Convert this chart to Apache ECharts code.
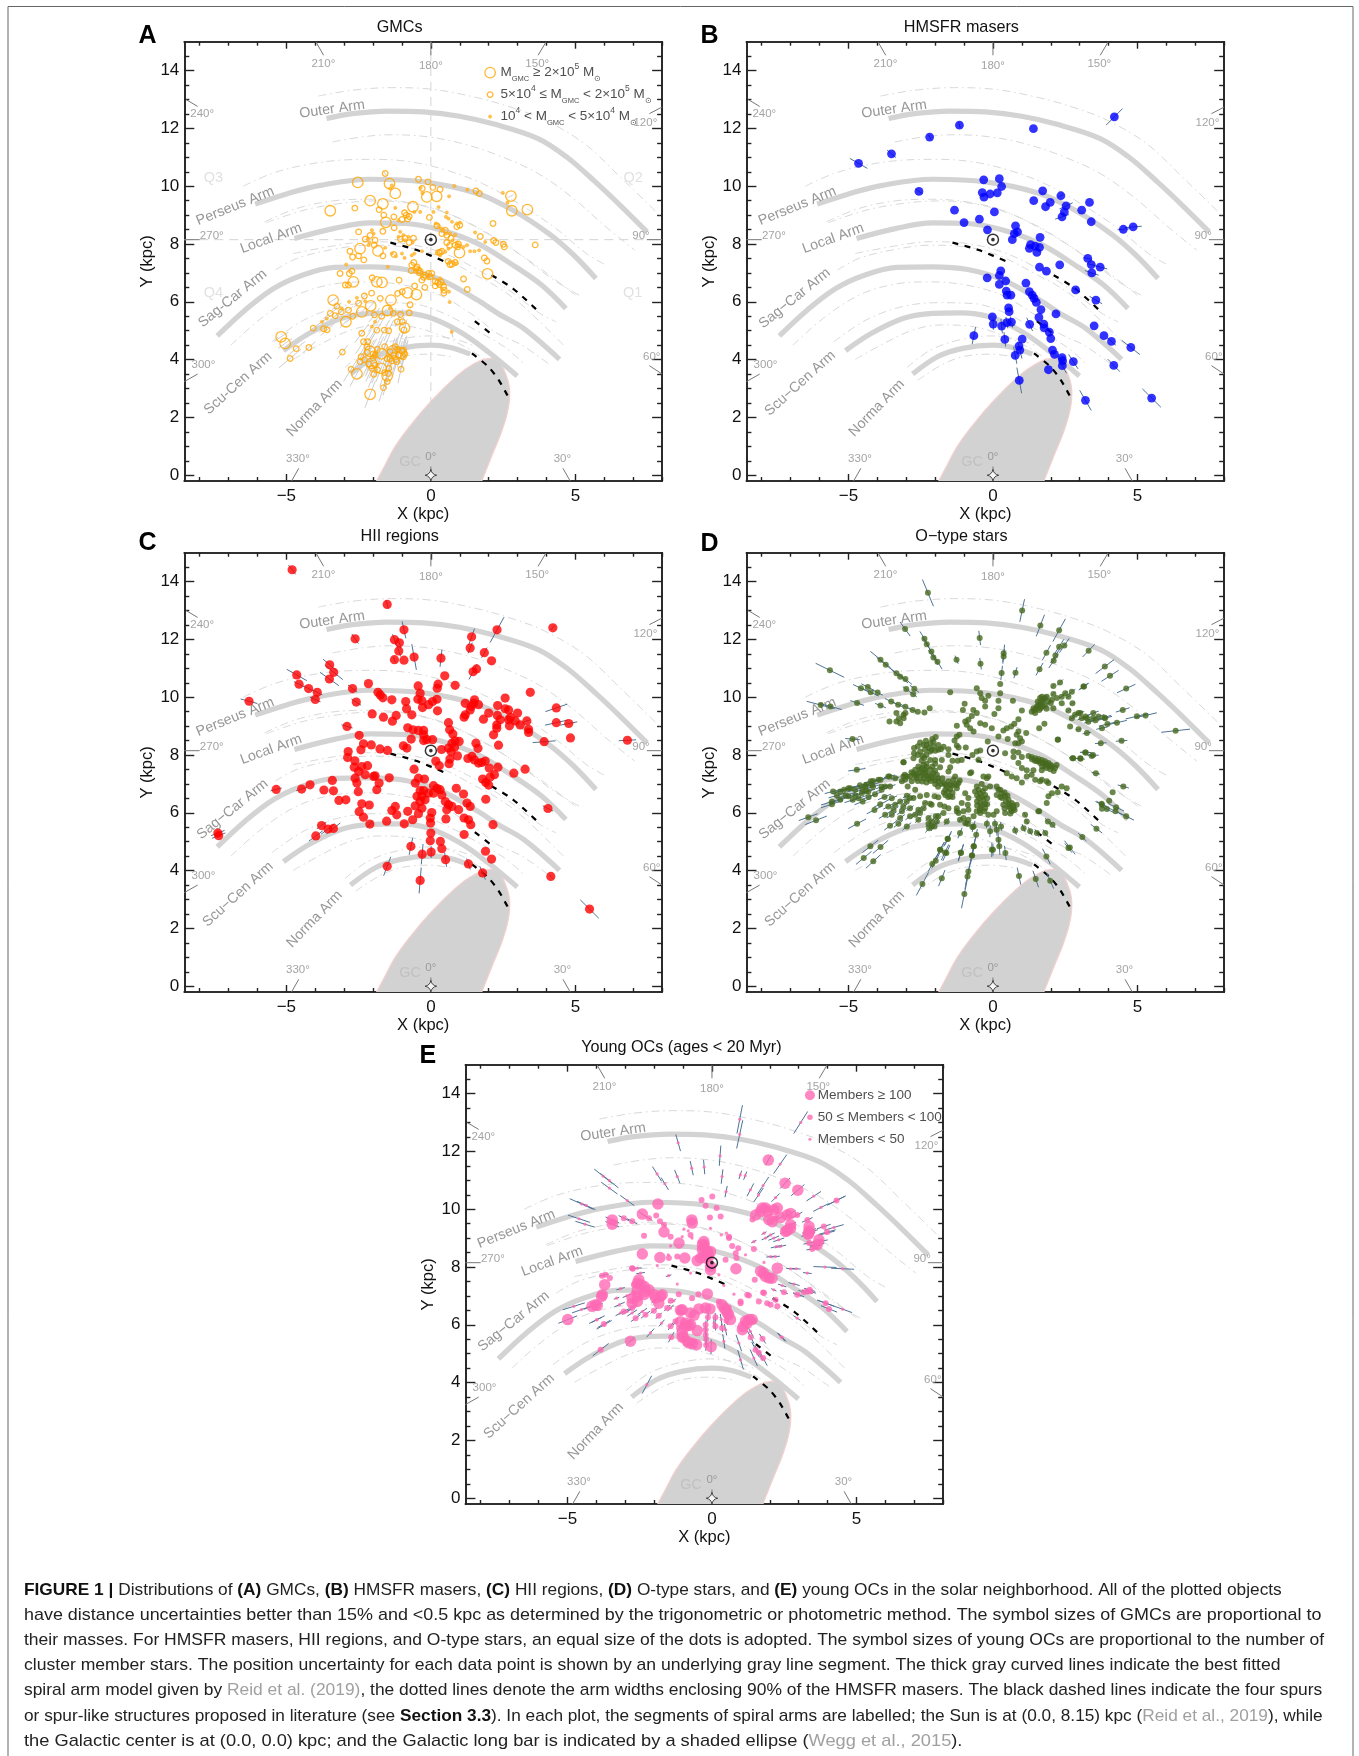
<!DOCTYPE html>
<html>
<head>
<meta charset="utf-8">
<style>html,body{margin:0;padding:0;background:#fff}#main{width:1359px;height:1756px}</style>
<script src="https://cdn.jsdelivr.net/npm/echarts@6/dist/echarts.min.js"></script>
</head>
<body>
<div id="main"></div>
<script>
// ---- tick values ----
const xMajor = [-5, 0, 5];
const xMinor = [-8, -7, -6, -4, -3, -2, -1, 1, 2, 3, 4, 6, 7, 8];
const yMajor = [0, 2, 4, 6, 8, 10, 12, 14];
const yMinor = [0.5, 1, 1.5, 2.5, 3, 3.5, 4.5, 5, 5.5, 6.5, 7, 7.5, 8.5, 9, 9.5, 10.5, 11, 11.5, 12.5, 13, 13.5, 14.5];

// ---- spiral arm centre lines (kpc) ----
const armOuter = [[-3.61,12.34],[-2.72,12.51],[-1.48,12.60],[-0.25,12.57],[0.99,12.42],[2.22,12.14],[3.71,11.65],[4.70,11.01],[5.69,10.15],[6.55,9.34],[7.48,8.42]];
const armPerseus = [[-6.08,9.38],[-4.94,9.75],[-3.83,10.03],[-2.10,10.24],[-0.25,10.15],[1.61,9.75],[2.84,9.17],[4.08,8.36],[4.94,7.62],[5.71,6.81]];
const armLocal = [[-4.72,8.19],[-3.34,8.54],[-2.10,8.73],[-0.87,8.71],[0.37,8.48],[1.61,8.02],[2.84,7.27],[3.83,6.58],[4.67,5.77]];
const armSagCar = [[-7.39,4.82],[-6.43,5.71],[-5.44,6.46],[-4.45,6.92],[-3.34,7.19],[-2.10,7.21],[-0.87,7.12],[0.37,6.75],[1.61,6.06],[2.35,5.58],[3.21,5.08],[4.45,4.01]];
const armScuCen = [[-5.1,4.31],[-4.2,4.91],[-3.09,5.43],[-2.1,5.6],[-1.11,5.62],[-0.12,5.48],[0.99,4.97],[1.98,4.27],[2.99,3.43]];
const armNorma = [[-2.78,3.5],[-1.92,4.1],[-1.05,4.39],[0,4.5],[0.68,4.42],[1.36,4.19]];

// ---- arm width (90%) lines ----
const wOuterUp = [[-3.89,13.12],[-2.72,13.32],[-1.36,13.41],[0,13.36],[1.61,13.06],[2.84,12.71],[3.96,12.28],[5.32,11.47],[6.55,10.32],[7.91,9.0]];
const wOuterLo = [[-3.40,11.53],[-2.35,11.71],[-1.36,11.78],[-0.12,11.71],[1.11,11.47],[2.35,11.06],[3.71,10.44],[4.94,9.57],[6.06,8.59],[7.05,7.79]];
const wPerseusUp = [[-6.49,10.0],[-5.5,10.44],[-4.39,10.73],[-3.15,10.9],[-1.92,10.93],[-0.68,10.84],[0.56,10.55],[1.79,10.09],[3.03,9.4],[4.26,8.59],[5.38,7.67],[6.06,7.27]];
const wPerseusLo = [[-5.75,8.77],[-4.64,9.23],[-3.4,9.49],[-2.16,9.55],[-0.93,9.46],[0.31,9.17],[1.55,8.59],[2.78,7.85],[4.02,6.98],[5.0,6.23]];
const wLocalUp = [[-5.69,8.74],[-4.39,9.17],[-3.15,9.4],[-1.92,9.49],[-0.68,9.4],[0.56,9.06],[1.79,8.48],[3.03,7.67],[4.26,6.75],[5.13,6.23]];
const wLocalLo = [[-4.76,7.67],[-3.4,7.93],[-2.16,8.08],[-0.93,8.02],[0.31,7.73],[1.55,7.15],[2.78,6.35],[3.77,5.6],[4.33,5.31]];
const wSagUp = [[-5.38,7.1],[-4.64,7.5],[-3.4,7.81],[-2.16,7.96],[-0.93,7.9],[0.31,7.56],[1.55,6.92],[2.29,6.52],[3.15,5.89],[4.64,4.45]];
const wSagLo = [[-6.92,4.5],[-5.87,5.43],[-4.64,6.23],[-3.4,6.61],[-2.16,6.69],[-0.93,6.58],[0.31,6.23],[1.55,5.48],[2.29,4.91],[3.15,4.5],[4.08,3.85]];
const wScuUp = [[-5.5,4.62],[-4.39,5.37],[-3.15,5.83],[-1.92,5.97],[-0.68,5.94],[0.31,5.66],[1.55,5.02],[2.53,4.45],[3.21,3.87]];
const wScuLo = [[-4.76,4.01],[-3.77,4.56],[-2.78,5.02],[-1.79,5.2],[-0.8,5.16],[0.31,4.85],[1.17,4.45],[1.98,3.93]];
const wNormaUp = [[-2.97,3.73],[-2.16,4.33],[-1.17,4.68],[-0.06,4.82],[0.93,4.68],[1.55,4.45]];
const wNormaLo = [[-2.6,3.29],[-1.79,3.81],[-1.05,4.1],[-0.06,4.19],[0.68,4.1]];

// ---- spurs ----
const spurA = [[-1.40,8.05],[-0.49,7.79],[0.62,7.33]];
const spurB = [[2.1,6.92],[2.84,6.46],[3.77,5.62]];
const spurC = [[1.52,5.33],[2.1,4.88]];
const spurD = [[1.42,4.22],[1.98,3.76],[2.35,3.29],[2.66,2.74]];

// ---- long bar outline ----
const barOutline = [[-2.42,-1.3],[-2.03,-0.5],[-1.61,0.30],[-1.24,0.99],[-0.74,1.68],[0,2.55],[0.87,3.41],[1.48,3.85],[2.04,4.04],[2.35,3.93],[2.60,3.47],[2.72,3.01],[2.69,2.37],[2.47,1.57],[2.10,0.65],[1.64,-0.5],[1.3,-1.3]];

// ---- longitude marks: [x1,y1,x2,y2] ----
const lonTicks = [[0,15,0,14.53],[-3.98,15,-3.71,14.53],[3.99,15,3.71,14.53],[-8.47,13.0,-8.07,12.76],[8,12.74,7.56,12.51],[-8.53,8.15,-8.0,8.15],[8,8.15,7.47,8.15],[-8.53,3.24,-8.07,3.5],[8,3.5,7.56,3.79],[-4.82,-0.2,-4.57,0.24],[4.82,-0.2,4.57,0.24],[0,0.13,0,0.3]];
const lonLabels = [[-3.72,14.24,'210°'],[0,14.18,'180°'],[3.68,14.24,'150°'],[-7.91,12.49,'240°'],[7.42,12.2,'120°'],[-7.58,8.27,'270°'],[7.27,8.27,'90°'],[-7.87,3.82,'300°'],[7.64,4.1,'60°'],[-4.6,0.56,'330°'],[4.55,0.56,'30°'],[0,0.64,'0°']];
const armLabels = [[-3.42,12.66,'Outer Arm',8],[-6.77,9.31,'Perseus Arm',22],[-5.53,8.19,'Local Arm',20],[-6.86,6.12,'Sag−Car Arm',39],[-6.67,3.18,'Scu−Cen Arm',42],[-4.02,2.32,'Norma Arm',46]];
const quadLabels = [[-7.52,10.3,'Q3'],[7.0,10.3,'Q2'],[-7.52,6.29,'Q4'],[6.98,6.29,'Q1']];
const sunPos = [[0,8.15]];
const gcPos = [[0,0]];

// ---- A: GMCs [x,y,positionError] ----
const gmcLarge = [[-2.53,10.13],[-1.43,10.09],[-1.23,9.75],[-3.48,9.15],[-2.10,9.50],[-1.66,9.39],[-0.62,9.29],[-0.14,9.63],[0.20,9.65],[2.77,9.66,.1],[2.80,9.15],[3.34,9.19],[-1.56,8.75],[-2.45,7.84],[-1.83,7.76],[0.99,7.70],[1.96,6.97],[-2.68,6.69],[-1.69,6.67],[-1.87,6.69],[-3.38,6.06,.2],[-1.38,6.06],[-0.81,6.31],[-0.50,6.25],[-2.39,5.65,.2],[-2.08,5.86,.2],[-1.50,5.70,.2],[-2.94,5.31,.3],[-0.91,5.10,.3],[-5.18,4.79,.3],[-5.04,4.56,.3],[-2.11,4.29,.5],[-1.70,4.20,.5],[-1.32,4.30,.5],[-1.03,4.22,.5],[-2.05,3.87,.5],[-1.72,3.70,.5],[-2.56,3.51,.5],[-1.51,3.44,.5],[-2.10,2.80,.5]];
const gmcMid = [[-1.58,10.44,.1],[-0.43,10.24],[-0.10,10.15],[-0.30,9.92],[0.07,9.96],[0.32,9.89],[1.56,9.84,.1],[1.68,9.75],[-2.63,9.24],[-1.79,9.19],[-1.63,9.0],[-1.28,8.94],[-0.91,9.08],[-0.80,8.87],[-0.05,8.92],[2.15,8.71],[-2.50,8.42],[-2.27,8.17],[-1.66,8.44],[-1.27,8.56],[-2.10,8.30],[-1.93,8.13],[-1.05,8.17],[-1.96,7.96],[-2.80,7.75],[-2.71,7.55],[-2.50,7.59],[-2.32,7.45],[-1.66,7.59],[-1.28,7.64],[1.71,8.26],[2.17,8.12],[2.25,8.05],[2.51,7.99],[2.54,7.90],[3.61,7.97],[1.85,7.52],[1.94,7.41],[0.66,7.29],[0.32,7.71],[-0.59,7.36],[-0.68,7.08],[-0.43,7.09],[-0.08,6.98],[-0.31,6.75],[0.15,6.71],[0.35,6.69],[0.46,6.40],[1.13,6.79],[1.26,6.43],[-0.21,6.50],[-0.56,6.55],[-1.10,6.75],[-2.03,6.83],[-2.82,6.98],[-2.73,7.06],[-3.14,6.98],[-2.96,6.58],[-2.85,6.58],[-1.75,6.12],[-1.15,6.29],[-0.99,6.35],[-0.72,5.90],[-0.75,5.62],[-1.05,5.56,.2],[-1.16,5.31,.2],[-0.99,5.31,.2],[-2.85,5.71,.2],[-3.48,5.60,.3],[-3.31,5.52,.3],[-4.07,5.09,.3],[-3.71,5.07,.2],[-3.59,5.03,.3],[-1.87,5.02,.4],[-1.61,5.02,.4],[-1.46,5.0,.4],[-0.93,5.03,.3],[-2.39,4.91,.4],[-2.33,4.62,.5],[-2.18,4.62,.5],[-4.66,4.38,.4],[-4.22,4.42,.3],[-4.87,4.04,.5],[-3.06,4.26,.3],[-2.41,4.10,.5],[-2.76,3.67,.5],[-1.97,3.49,.5],[-1.51,3.24,.5],[-1.64,3.03,.5],[-1.41,4.04,.5],[-1.18,3.93,.5],[-1.03,3.67,.5],[-0.95,4.10,.5],[0.21,8.63],[0.50,8.48],[0.38,8.36],[0.84,7.96],[0.93,7.90],[0.27,7.71],[0.38,7.75],[0.73,7.30],[0.84,7.36],[-0.48,7.21],[-0.37,7.06],[-0.20,6.92],[-0.02,6.87],[0.03,6.98],[-0.66,7.27],[0.24,6.67],[0.44,6.52],[-2.21,4.45,.5],[-1.93,4.16,.5],[-1.52,4.04,.5],[-1.41,4.27,.5],[-1.23,4.45,.5],[-1.12,4.16,.5],[-0.95,4.33,.5],[-2.04,3.70,.5],[-1.93,3.81,.5],[-2.45,3.93,.5],[-1.47,3.52,.5],
[-1.85,4.35,.5],[-2.0,4.2,.5],[-1.6,4.45,.5],[-1.3,4.15,.5],[-1.15,4.35,.5],[-1.0,4.3,.5],[-0.9,4.2,.5],[-1.2,4.0,.5],[-1.35,3.95,.5],[-2.2,4.25,.5],[-2.3,4.0,.5],[-2.0,4.05,.5],[-2.15,3.85,.5],[-1.85,3.65,.5],[-1.6,3.55,.5],[-1.45,3.7,.5],[-0.75,8.95],[-0.85,9.0],[-1.0,8.85],[-0.6,8.2],[-0.75,8.05],[-0.9,8.2],[0.9,8.6],[1.0,8.65],[0.95,8.0],[0.6,7.4],[0.55,8.3],[0.7,8.2],[0.55,8.05],[0.65,7.95],[-0.4,7.0],[-0.25,6.85],[-0.5,7.15],[0.15,6.55],[0.3,6.6],[0.45,6.3],
[-3.25,5.85,.2],[-3.1,5.65,.25],[-2.7,5.5,.3],[-2.5,5.95,.2],[-2.3,6.2,.1],[-2.05,6.3],[-1.95,5.55,.3],[-1.7,5.5,.3],[-1.3,5.6,.2]];
const gmcSmall = [[-1.35,10.03],[-1.41,9.92],[-0.29,9.75],[-0.36,9.94],[0.63,9.65],[0.81,10.01],[1.26,9.88,.1],[2.49,9.77],[2.65,9.43],[-1.23,9.25],[-0.57,9.11],[-0.37,9.11],[0.27,9.28],[0.09,9.11],[0.55,9.09],[0.52,8.94],[0.61,8.88],[0.73,8.77],[0.90,8.71],[1.01,8.74],[0.17,8.71],[0.27,8.63],[0.35,8.54],[0.44,8.48],[0.52,8.36],[0.67,8.36],[0.84,8.31],[0.75,8.13],[0.90,8.05],[1.01,7.96],[1.13,7.90],[1.25,7.96],[1.53,8.40],[1.88,8.07],[1.36,7.75],[1.51,7.75],[1.67,7.78],[0.61,7.84],[0.50,7.73],[0.32,7.61],[0.21,7.67],[0.67,7.38],[0.78,7.38],[0.90,7.33],[-1.35,7.67],[-1.21,7.58],[-1.00,7.67],[-0.91,7.52],[-0.66,7.61],[-0.57,7.67],[-0.31,7.75],[-1.58,7.87],[-2.93,7.29],[-1.49,7.21],[-0.60,7.15],[-0.54,7.04],[-0.31,6.92],[-0.08,6.81],[0.32,6.81],[0.44,6.63],[0.38,6.44],[0.63,6.35],[0.65,5.99],[0.72,4.96,.2],[-2.83,6.0],[-2.56,6.14],[-2.27,6.02],[-3.08,5.77],[-3.77,5.31,.2],[-3.60,5.42,.2],[-2.04,5.14,.2],[-1.41,5.77],[-1.93,5.31,.2],[-1.12,8.82],[-1.06,8.42],[-0.95,8.31],[-1.12,8.25],[-0.89,8.13],[-0.77,8.25],[-0.63,8.05],[-2.04,8.48],[-1.98,8.36],[-2.16,7.96],[-2.12,8.05],[-2.18,8.17]];
const gmcLegend = [[2.05,13.93],[2.05,13.17],[2.05,12.41]];

// ---- B: HMSFR masers ----
const maserData = [[4.20,12.40,.4],[1.40,11.99],[-1.16,12.11,.1],[-2.19,11.70,.1],[-3.51,11.12,.2],[-4.65,10.79,.35],[-2.56,9.82,.15],[-0.32,10.22],[0.22,10.26],[0.30,9.99],[0.15,9.77],[-0.37,9.78],[-0.31,9.62],[-0.10,9.73],[1.72,9.84],[1.41,9.50],[2.35,9.67,.1],[1.98,9.44],[1.82,9.29],[2.53,9.32,.25],[2.47,9.11],[2.39,8.94,.25],[3.34,9.44],[3.07,9.17],[3.40,8.77],[4.51,8.51,.2],[4.85,8.59,.3],[-1.33,9.17],[0.05,9.11],[-0.47,8.86],[-1.0,8.74],[-0.19,8.49],[0.78,8.63],[0.74,8.36],[0.85,8.42],[0.67,8.15],[1.63,8.23],[1.30,7.98],[1.26,7.85],[1.46,7.93],[1.61,7.88],[1.52,7.71],[3.28,7.5,.15],[3.40,7.29,.15],[3.71,7.2,.25],[3.42,7.0,.25],[1.61,7.2],[2.31,7.28],[1.85,7.06],[0.27,7.07],[0.22,6.91],[-0.2,6.83],[0.44,6.72],[0.22,6.6],[0.46,6.37],[0.49,6.23],[0.62,6.23],[1.14,6.65],[1.26,6.35],[1.36,6.23],[1.42,6.12],[1.50,5.98],[2.86,6.41,.15],[3.56,6.06,.25],[0.54,5.79],[0.56,5.66],[1.66,5.73],[2.18,5.58],[-0.02,5.48],[0.01,5.23,.2],[0.30,5.16,.25],[0.48,5.28,.2],[0.64,5.30,.2],[1.27,5.22,.25],[1.59,5.46],[1.76,5.23],[1.77,5.10],[1.95,4.95],[2.0,4.73],[3.50,5.17],[3.84,4.83],[4.10,4.63,.2],[4.77,4.42,.4],[-0.66,4.83,.3],[0.41,4.70,.25],[1.01,4.71],[0.90,4.47],[0.93,4.33,.3],[0.77,4.15,.3],[2.06,4.33],[2.13,4.18],[2.39,4.07],[2.41,3.96],[2.40,3.79,.3],[2.78,3.93,.3],[4.18,3.80,.3],[1.92,3.65],[0.91,3.28,.45],[3.2,2.59,.4],[5.49,2.67,.45]];

// ---- C: HII regions ----
const hiiData = [[-4.80,14.41,.2],[-1.51,13.21,.15],[4.22,12.40,.1],[2.29,12.33,.5],[-0.93,12.33,.3],[-2.62,12.02,.2],[1.41,12.09,.3],[-1.26,11.99,.2],[-1.09,11.88,.2],[-1.11,11.6,.2],[1.36,11.7,.2],[1.85,11.54,.2],[-1.26,11.3,.1],[-0.93,11.28],[-0.58,11.39,.45],[0.35,11.35,.3],[2.10,11.26],[-3.5,11.12,.3],[-3.36,10.86,.4],[-3.51,10.63,.4],[-4.64,10.77,.4],[-4.56,10.45,.2],[-4.23,10.3,.2],[-3.93,10.17,.2],[-4.0,9.92,.2],[-6.29,9.86,.3],[1.46,10.88,.3],[1.58,10.98],[0.48,10.74],[0.84,10.41],[0.25,10.45],[0.22,10.31],[-2.16,10.47],[-2.71,10.3,.2],[-2.58,9.83,.2],[3.44,10.17],[4.34,9.63,.4],[4.34,9.12,.4],[4.77,9.09,.3],[4.83,8.59],[3.92,8.46,.4],[6.80,8.51,.3],[-5.35,6.81,.2],[-4.47,6.82,.2],[-4.18,6.97],[-3.7,6.79],[-3.37,6.76],[-3.41,7.12],[-3.18,6.43],[-2.94,6.45],[-7.37,5.30,.25],[-7.34,5.21,.25],[-3.78,5.56,.2],[-3.98,5.2,.3],[-3.56,5.44,.3],[-3.37,5.46,.3],[4.05,6.15,.2],[4.15,3.80,.1],[5.49,2.67,.45],[-0.37,3.66,.45],[-1.51,4.15,.35],[-0.30,4.57,.35],[-0.69,4.84,.3],[0.01,4.64,.2],[0.51,4.38,.25],[1.30,4.23,.2],[1.79,3.92,.25],[2.1,4.40],[1.89,4.67],
[-1.83,10.17],[-1.75,10.08],[-1.66,9.98],[-1.35,9.91],[-2.03,9.42],[-1.64,9.31],[-1.33,9.17],[-1.20,9.37],[-0.87,9.85],[-0.84,9.60],[-0.66,9.39],[-0.44,10.39],[-0.37,10.14],[-0.45,9.93],[-0.31,9.88],[-0.29,9.64],[-0.08,9.74],[0.06,9.85],[0.21,9.93],[0.23,9.53],[-2.90,8.99,.2],[-2.48,8.68],[-0.80,8.94],[-0.62,8.87],[-0.43,8.85],[-0.25,8.85],[-0.25,8.70],[-0.25,8.50],[-0.14,8.53],[0.06,8.53],[-0.68,8.55],[-0.95,8.32],[-0.83,8.24],[0.37,8.19],[-2.33,8.39],[-2.06,8.35],[-2.42,8.18],[-1.76,8.21],[-1.50,8.16],[-2.86,8.12],[-2.88,7.91],[-2.63,7.80],[-2.65,7.58],[-2.19,7.63],[-2.39,7.60],[-2.50,7.43],[-2.27,7.32],[-2.62,7.20],[-2.56,7.03],[-1.98,7.26],[-1.93,7.28],[-1.44,7.21],[-1.79,7.03],[-1.87,6.80],[-2.51,6.73],[-0.58,7.51],[0.17,7.79],[0.29,7.63],[0.63,7.70],[0.66,7.86],[0.92,7.97],[0.61,9.12],[0.65,8.87],[0.76,8.73],[0.84,8.49],[0.98,8.47],[0.73,8.41],[0.61,8.24],[0.82,8.27],[0.70,8.12],[1.28,7.88],[1.42,7.95],[1.51,7.83],[1.65,7.72],[1.88,7.79],[1.76,7.74],[2.02,7.55],[2.32,7.58],[2.87,7.37],[3.26,7.51],[2.20,7.32],[2.05,7.24],[1.79,7.17],[1.90,7.05],[2.00,6.96],[1.90,6.47],[1.56,8.41],[1.63,8.23],[2.34,8.34],
[1.19,9.79],[1.19,9.39],[1.15,9.31],[1.40,9.68],[1.48,9.79],[1.51,9.91],[1.65,9.74],[1.36,9.56],[1.82,9.24],[2.0,9.45],[2.31,9.71],[2.30,9.37],[2.57,9.97],[2.57,9.60],[2.69,9.56],[3.0,9.45],[2.75,9.31],[2.69,9.22],[2.92,9.18],[2.72,9.01],[3.09,9.04],[3.32,9.18,.1],[3.38,8.89,.1],[3.38,8.78,.1],[2.40,9.22],[2.28,9.04],[2.28,8.93],[2.17,8.70],
[-0.54,7.03],[-0.43,7.20],[-0.22,7.17],[-0.37,6.77],[-0.25,6.77],[-0.48,6.57],[-0.31,6.57],[-0.08,6.68],[-0.37,6.39],[-0.20,6.45],[-0.54,6.24],[-0.31,6.16],[-0.43,5.97],[0.09,6.94],[0.21,6.85],[0.32,6.80],[0.38,6.62],[0.09,6.68],[0.50,6.39],[0.61,6.28],[0.73,6.22],[0.55,6.11],[0.52,5.79],[0.96,6.11],[0.88,6.85],[1.13,6.65],[1.25,6.34],[1.36,6.22],[1.15,5.82],[1.30,5.76],[1.38,5.59],[2.15,5.59],[1.15,5.25],[0.03,6.01],[-0.02,5.82],[-0.01,5.65],[0.0,5.30],[-0.02,5.03],[0.33,5.01],[0.38,4.76],[-1.23,6.22],[-1.35,6.08],[-1.18,5.93],[-0.80,6.05],[-0.92,5.62],[-0.63,5.76],[-1.53,5.71],[-2.39,6.31],[-2.13,6.27],[-2.48,6.04],[-2.33,5.85],[-2.11,5.61,.15]];

// ---- D: O-type stars ----
const oStarData = [[-2.25,13.61,.5],[1.01,13.0,.4],[1.64,12.48,.4],[2.29,12.32,.45],[-3.04,12.36,.3],[-0.46,12.05,.25],[-2.37,12.02,.3],[-2.29,11.83,.3],[-2.13,11.58,.4],[-2.06,11.37,.3],[-1.92,11.23,.3],[-1.26,11.3,.15],[-0.43,11.16,.2],[0.37,11.52,.3],[0.37,11.41,.25],[1.85,11.54,.3],[2.29,11.75,.3],[2.47,11.79,.3],[2.16,11.44,.3],[2.10,11.26,.3],[3.31,11.61,.3],[3.87,11.06,.4],[4.05,10.74,.35],[4.61,10.30,.35],[3.15,10.37,.2],[1.61,10.97,.25],[0.78,10.85,.2],[0.30,10.84,.25],[-5.64,10.93,.55],[-3.89,11.3,.45],[-3.71,11.12,.4],[-3.34,10.83,.3],[-3.21,10.71,.35],[-3.03,10.63,.3],[-4.57,10.31,.3],[-4.33,10.35,.25],[-4.23,10.17,.3],[-3.99,10.16,.2],[-4.70,9.8,.25],[-5.96,9.73,.5],[-5.62,9.68,.4],[-3.0,10.28,.15],[-2.72,10.29,.2],[-2.76,10.1,.15],[-1.48,10.17],[-3.89,9.71,.2],[-3.52,9.85,.25],[-3.28,9.74,.2],[-3.03,9.67,.2],[-2.78,9.56,.15],[-2.60,9.5],[-2.37,9.47],[-2.19,9.62],[-3.34,9.45],[-3.09,9.39],[-3.03,9.45],[-3.34,9.16],[-3.58,9.16],[-3.21,9.10],[-3.25,9.27],[-3.09,9.27],[-4.86,8.55,.25],[-4.71,7.49,.3],[4.49,9.56,.25],[4.29,9.12,.35],[3.96,9.07,.3],[3.77,8.93,.2],[4.98,9.34,.4],[5.28,9.37,.4],[6.32,8.84,.5],[4.45,8.49,.2],[3.73,8.41,.2],[2.25,8.54],[3.21,8.09,.2],[3.46,8.0,.2],[2.78,7.89,.15],[3.03,7.87,.15],[3.56,7.37,.15],[4.51,6.91,.2],[4.14,6.71],[4.02,6.42],[3.77,6.28,.25],[4.26,6.19,.3],[4.24,6.05,.3],[4.61,5.88,.3],[3.77,6.14],[3.58,5.45,.25],[3.09,5.16,.2],[2.66,4.80,.3],[1.85,4.49,.3],[0.90,3.81,.3],[1.48,3.71,.3],[1.98,3.65,.3],[0.43,4.61,.25],[0.22,4.84,.3],[0,4.72,.2],[-0.72,4.52,.3],[-1.11,4.61,.3],[-0.66,4.84,.3],[-1.61,4.61,.3],[-1.57,5.10,.3],[-1.82,4.72,.3],[-1.98,4.34,.3],[-2.10,4.23,.3],[-1.77,3.74,.3],[-0.85,3.97,.45],[-0.88,3.8,.45],[-0.99,3.19,.5],[-2.44,3.54,.45],[-4.24,4.84,.35],[-3.89,4.82,.35],[-4.47,4.44,.35],[-4.14,4.32,.35],[-4.70,5.62,.35],[-6.39,5.85,.35],[-6.12,5.74,.4],[-5.53,6.74,.3],[-5.28,6.74,.3],[-5.15,6.80,.3],[-5.0,6.85,.3],[-5.57,6.39,.4],[-5.57,6.30,.4],[-5.28,6.45,.35],[-5.0,6.57,.35],[-4.76,6.60,.3],[-4.51,6.39,.3],[-4.51,6.80,.3],[-4.39,6.97,.3],[-4.23,7.09,.25],[-4.39,6.74,.25],[-4.08,6.64,.25],[-3.89,7.14,.2],[-3.58,7.26,.2],[-3.09,7.75],[-3.05,7.32,.1],
[-2.64,7.32],[-2.52,7.49],[-2.40,7.66],[-2.29,7.58],[-2.17,7.49],[-2.06,7.37],[-2.23,7.32],[-2.40,7.37],[-2.64,7.20],[-2.40,7.20],[-2.23,7.17],[-2.75,7.37],[-2.69,7.49],[-2.35,7.49],[-2.49,7.28],[-2.09,7.20],[-1.94,7.32],[-1.83,7.58],[-2.17,7.83],[-3.10,7.75],[-2.87,7.26],[-3.04,7.14],[-3.10,7.26],[-2.81,7.09],[-2.69,6.80],[-2.95,6.91],[-1.48,7.58],[-1.54,7.43],
[-2.73,8.24],[-2.73,8.06],[-2.52,8.43],[-2.32,8.49],[-2.17,8.41],[-2.23,8.24],[-2.12,8.18],[-1.98,8.62],[-2.06,8.47],[-1.89,8.35],[-1.71,8.29],[-1.54,8.20],[-2.35,8.18],[-2.52,8.12],[-2.44,7.97],[-2.17,8.12],[-1.89,8.18],[-1.25,8.33],[-1.33,8.50],[-1.25,8.64],[-1.16,8.70],[-1.19,8.26],[-0.94,8.26],[-1.40,7.80],[-1.22,7.80],[-1.08,7.83],[-0.71,8.0],[-0.56,8.12],[-0.44,8.16],[-0.79,7.37],[-0.50,7.83],[-0.75,7.40],
[-1.89,7.09],[-1.71,7.03],[-1.54,7.09],[-1.37,7.14],[-1.19,7.03],[-1.60,6.91],[-1.42,6.94],[-1.25,6.85],[-1.54,6.74],[-1.65,6.62],[-1.48,6.57],[-2.02,6.57],[-1.89,6.54],[-1.31,7.26],[-1.83,6.28],[-2.17,6.31],[-2.35,6.34,.1],[-1.68,6.22],[-2.58,6.11,.15],[-2.87,6.51,.15],[-2.98,6.59,.15],[-3.21,6.39,.2],[-3.38,6.28,.2],[-3.62,6.22,.2],[-3.73,5.93,.25],[-3.44,6.11,.2],[-3.15,6.05,.2],[-3.21,5.82,.2],[-2.87,5.88,.2],[-2.69,5.93,.2],[-2.52,5.99,.15],[-3.56,5.55,.25],[-3.27,5.62,.2],[-2.98,5.53,.2],[-2.23,5.62,.15],[-2.12,5.70,.15],[-1.98,5.88,.15],[-2.21,5.47,.2],[-2.02,5.53,.2],[-1.60,5.70,.15],
[-0.56,6.91],[-0.39,7.0],[-0.27,6.85],[-0.62,6.74],[-0.44,6.68],[-0.27,6.62],[-0.48,6.51],[-0.33,6.45],[-0.44,6.34],[-0.27,6.31],[-0.44,6.16],[-0.27,6.16],[-0.85,6.51],[-0.87,6.28],[-1.25,6.16],[-1.25,6.05],[-1.02,6.05],[-0.85,6.11],[-0.44,5.99],[-1.14,5.76,.1],[-0.96,5.65,.1],[-0.87,5.62,.1],[-0.71,5.51,.1],[-0.16,5.93],[-0.21,5.62,.15],[0.02,5.93],[0.07,5.62,.15],[0.28,5.53,.15],[-0.33,7.26],[-0.21,7.2],[-0.16,7.26],[-0.10,6.91],
[0.13,6.91],[0.19,6.80],[0.31,6.68],[0.42,6.57],[0.54,6.45],[0.65,6.34],[0.71,6.16],[0.54,6.22],[0.36,6.28],[0.31,6.51],[0.13,6.62],[0.65,6.05],
[0.25,10.46],[0.25,10.14],[0.19,9.88],[-0.56,10.31],[-0.44,10.14],[-0.39,9.97],[-0.27,9.88],[-0.16,10.05],[-0.27,9.68],[-0.98,9.77],[-1.04,9.56],[-0.68,9.56],[-0.56,9.45],[-0.73,9.35],[-0.85,9.22],[-0.96,9.16],[-0.91,9.05],[-0.79,8.93],[-0.67,8.81],[-0.44,9.10],[-0.27,9.05],[-0.04,8.93],[-1.25,9.01],[0.05,9.42],[0.19,9.62],[0.69,9.88],[1.0,9.54],[0.88,9.24],[0.74,9.08],[0.63,8.99],[0.48,8.93],[0.36,8.85],[0.19,8.64],[-0.18,8.47],[0.51,8.55],[0.82,8.70],[0.88,8.81],[1.15,8.76],[0.94,8.58],[0.88,8.41],[0.77,8.41],[1.0,8.47],[1.60,8.93],[1.78,9.08],[2.24,8.53],
[1.34,9.50],[1.40,9.62],[1.52,9.68],[1.63,9.79],[1.75,9.91],[1.86,10.02],[1.46,9.45],[1.60,9.56],[1.72,9.68],[1.80,9.73],[1.69,10.02],[2.09,10.11,.1],[2.32,10.51,.15],[2.09,10.39,.1],[2.21,9.97],[2.38,9.79],[2.09,9.62],[2.73,10.19,.15],[2.61,10.02,.1],[2.75,9.79,.1],[2.61,9.54,.1],[2.84,9.39,.1],[3.02,9.45,.15],[3.07,9.27,.15],[2.73,9.27,.1],[2.96,8.89,.1],[2.67,8.99],[3.25,8.76,.15],[3.47,9.27,.2],[3.65,9.33,.2],
[0.42,8.06],[0.71,8.12],[0.88,8.09],[0.71,7.93],[1.0,7.93],[1.23,7.97],[1.34,7.93],[1.46,7.89],[1.57,7.86],[1.69,7.83],[1.80,7.78],[1.92,7.72],[2.04,7.60],[2.15,7.55],[1.63,7.72],[1.80,7.63],[1.98,7.51],[1.52,7.78],[0.88,7.72],[1.0,7.55],[1.17,7.47],[1.40,7.47],[1.69,7.47],[1.34,7.32],[0.48,7.37],[0.65,7.26],[0.82,7.20],[1.0,7.05],[1.63,7.09],[1.86,7.09],[1.92,7.03],[2.04,6.68],[2.24,6.71],[2.38,6.91],[2.55,6.85],[2.75,7.89],[3.02,7.89],[3.19,8.09,.15],[3.42,7.97,.15],
[1.11,5.93,.1],[1.17,5.70,.1],[1.06,5.47,.15],[1.60,6.05],[1.90,5.70,.15],[2.06,5.59,.15],[0.77,5.39,.15],[1.29,5.36,.15],[1.52,5.30,.15],[1.81,5.30,.15],[2.61,4.78,.2],[-0.10,5.36,.2],[0.13,5.41,.2],[-0.67,5.53,.2],[-0.58,5.24,.2],[-1.14,5.30,.2],[0.19,5.07,.25],[-0.04,4.72,.25],[-0.67,4.84,.25],[-0.73,4.52,.25],[-1.11,4.63,.3],[-1.66,4.63,.3],[-1.83,4.72,.3],[-1.56,5.09,.25],[3.76,6.31,.2],[3.94,6.13,.25],
[-2.58,7.60],[-2.46,7.54],[-2.34,7.40],[-2.28,7.26],[-2.12,7.28],[-2.0,7.46],[-2.3,7.7],[-2.55,7.38],[-2.7,7.28],[-2.82,7.4],[-2.6,7.1],[-2.45,7.08],[-2.3,7.05],[-2.15,7.1],[-2.0,7.12],[-1.9,7.2],[-1.75,7.2],[-2.1,7.6],[-2.0,7.7],[-2.47,7.8],[-2.38,7.9],
[-1.8,7.0],[-1.65,6.98],[-1.48,6.98],[-1.33,7.0],[-1.65,6.8],[-1.48,6.82],[-1.4,6.7],[-1.55,6.55],[-1.4,6.55],[-1.7,6.7],[-1.25,6.95],[-1.15,7.12],[-1.9,6.9],[-2.0,7.0],
[-0.5,6.8],[-0.35,6.75],[-0.55,6.6],[-0.38,6.55],[-0.55,6.4],[-0.38,6.25],[-0.55,6.25],[-0.3,6.05],[-0.45,6.08],[-0.2,6.5],[-0.2,6.3],
[0.25,6.8],[0.4,6.7],[0.5,6.6],[0.55,6.3],[0.7,6.25],[0.6,6.15],[0.75,6.1],[0.45,6.4],[0.25,6.55],[0.4,6.15],[0.6,5.98],
[1.45,7.8],[1.6,7.78],[1.75,7.72],[1.85,7.7],[1.95,7.6],[1.7,7.6],[1.85,7.55],[2.1,7.45],[2.0,7.65],[1.35,7.85],[2.2,7.65],
[1.42,9.55],[1.5,9.6],[1.58,9.72],[1.7,9.85],[1.8,9.97],[1.92,9.85],[1.55,9.85],[1.65,9.62],[1.85,9.6],[2.0,9.8],
[-2.6,8.3],[-2.4,8.35],[-2.3,8.35],[-2.05,8.3],[-2.0,8.15],[-1.8,8.2],[-2.6,8.0],[-2.3,8.0],[-2.1,8.55],
[3.2,9.33,.15],[3.3,9.15,.15],[3.55,9.2,.2],[3.85,9.3,.25],[-5.4,6.6,.3],[-5.1,6.6,.35],[-4.85,6.45,.3],[-4.65,6.5,.3],[-4.3,6.55,.25],[-4.6,6.95,.25],[-4.15,6.9,.25],[-3.85,6.9,.2],[-4.15,7.1,.2],[-3.75,6.55,.25],[-3.5,6.5,.2],[-3.9,6.3,.25],[-4.1,6.1,.3],
[-2.98,6.39,.15],[-2.75,6.51,.1],[-2.52,6.57],[-2.29,6.62],[-2.12,6.28],[-2.4,6.16,.1],[-2.87,6.16,.15],[-3.1,6.22,.15],[-3.5,5.93,.2],[-2.58,5.76,.15],[-2.23,5.82,.15],[-1.89,5.88,.15],[-2.12,5.53,.15],[-1.94,5.7,.15],[-1.71,5.99],[-1.54,6.16],[-1.08,6.34],[-0.96,6.68],[-1.19,5.99],[-1.02,5.82],[-0.85,5.76],[-0.67,5.88],[-0.56,6.05],[0.13,6.05],[0.42,5.99],[0.82,6.28],[1.92,6.57],[1.86,6.34],[1.57,6.05],[1.69,7.14],[1.46,7.14],[1.17,7.26],[-1.54,8.0],[-1.77,7.83],[-2.0,7.83],[-2.75,7.89],[-2.98,7.26],[-3.15,7.09,.1],[-3.38,7.2,.15],[-3.62,7.26,.15],[-3.73,6.91,.2],[-3.96,7.14,.2],[-4.19,6.97,.25],[-4.42,6.91,.25],[-4.54,6.68,.3],[-4.77,6.8,.3],[-4.94,6.85,.3],[-4.31,6.74,.25],[-3.85,6.8,.2],[-3.56,6.91,.2],[1.63,9.97],[2.04,9.91],[2.38,10.02,.1],[2.5,10.14,.1],[3.13,10.37,.2],[2.96,9.45,.15],[3.25,9.27,.15],[3.47,9.45,.2],[3.88,9.27,.25]];

// ---- E: young open clusters ----
const ocLarge = [[-1.87,10.18],[-2.41,9.83,.15],[-3.45,9.63,.25],[-3.45,9.48,.25],[-0.70,9.63],[-0.68,9.52],[-1.66,9.21],[-0.27,8.77],[-0.16,8.54],[-0.33,8.60],[-0.11,8.37],[-1.80,8.33],[-0.94,8.31],[-0.51,8.22],[-0.05,8.02],[0.83,7.94],[-1.14,8.83],[-2.41,8.45],[1.78,7.79],[1.97,7.62],[2.26,7.96],[1.68,9.92,.15],[1.85,10.04,.15],[1.51,9.80,.15],[2.14,9.98,.15],[2.72,9.85,.2],[2.37,9.71,.15],[2.72,9.46,.2],[2.55,9.23,.2],[3.36,9.25,.25],[3.33,9.13,.25],[3.64,8.77,.25],[-3.71,7.39],[-2.47,7.39],[-2.58,7.21],[-2.30,7.16],[-1.78,6.98],[-3.82,6.98],[-2.58,6.81],[-2.76,6.75],[-3.97,6.67,.2],[-4.15,6.64,.3],[-0.16,7.07],[-1.09,6.50],[-0.45,6.55],[-0.07,6.55],[-0.80,5.98],[-0.51,5.80],[-1.0,5.60],[-0.68,5.35],[-0.03,5.24,.25],[0.64,6.18],[0.47,6.52],[1.08,5.94],[1.28,6.18],[-2.82,5.43,.2],[-4.99,6.18,.35],[1.95,11.7,.2],[2.53,10.90,.25],[2.97,10.66,.3],
[1.97,9.64],[2.09,9.57],[3.36,9.40],[-2.18,7.21],[-2.0,7.04],[-1.84,6.75],[-2.35,7.05],[-2.53,7.56],[-0.62,6.33],[-0.91,6.05],[-1.09,6.11],[-1.03,5.72],[-0.86,5.43],[0.35,6.69],[0.58,6.35],[1.16,6.12],[-0.28,8.66],[-0.22,8.31],
[-1.03,6.52],[-0.74,6.41],[-0.22,6.58],[-0.91,5.95],[-0.74,6.0],[-1.03,5.57],[-0.80,5.37],[-0.53,5.31],[0.42,6.58],[0.53,6.41],[1.22,6.06],[1.39,6.18],[1.05,5.83],[-2.58,7.44],[-2.35,7.33],[-1.95,6.93],[-1.72,7.04],[-2.76,6.92],[-2.58,6.98],[-3.79,7.04],[-4.03,6.69],[1.68,7.85],[1.85,7.67],[2.08,7.61],[1.74,10.04],[1.91,9.92],[2.26,10.04],[2.6,9.8],[2.72,9.34],[2.6,9.26],[3.35,9.17],[3.7,8.94],[-0.28,8.88],[-0.33,8.77],[-0.05,8.54],[-0.16,8.42],[-0.39,8.31],[-0.05,7.9]];
const ocMid = [[-2.35,9.08],[-1.93,9.78],[-1.80,9.58],[-0.07,9.71],[0.30,9.75],[-0.36,10.32],[0.01,10.44],[-0.22,10.12],[0.16,10.04],[0.70,8.73],[0.91,8.65],[0.82,8.48],[0.85,8.31],[0.47,8.25],[1.45,8.62],[-1.49,8.31],[-1.20,8.36],[0.59,9.05],[1.48,7.56],[1.28,7.01],[0.99,6.75],[1.77,7.12],[2.20,6.87],[2.49,7.13,.15],[1.91,6.75],[2.26,6.64],[3.18,7.13,.2],[3.38,7.21,.2],[3.93,6.75,.3],[4.05,6.55,.3],[3.99,9.21,.3],[4.31,10.30,.35],[3.36,8.83,.2],[3.47,8.62,.2],[-0.69,6.92],[-0.47,7.06],[-1.15,7.06],[0.24,6.81],[0.12,6.26,.15],[-0.14,6.26,.15],[-3.74,6.03,.25],[-2.64,6.23,.2],[-2.01,6.49,.15],[-1.84,6.31,.15],[-3.53,7.62],[-3.80,7.70,.1],[-2.74,7.94,.1],[-3.85,5.14,.35],[-1.41,5.57,.2],[-0.22,5.66,.2],[-0.20,5.51,.2],[-0.20,5.30,.2],[1.34,5.57,.25],[1.75,5.52,.2],[1.51,5.14,.3],[1.62,5.03,.3],[1.77,4.85,.3],
[1.40,9.64],[3.47,9.23,.2],[3.76,8.89,.25],[3.58,8.72,.2],[-2.70,7.10],[-2.47,6.96],[-2.70,7.39],[-1.14,6.46],[-0.63,5.43],[0.58,6.6],[1.45,6.14],[-0.39,8.37],
[-3.05,6.46,.2],[-2.76,6.58,.2],[-2.3,6.35,.2],[-1.55,6.58,.15],[-1.43,6.83,.1],[-1.14,5.89,.15],[-1.26,6.12,.15],[-1.43,5.95,.15],[-0.22,6.0,.15],[-0.22,5.83,.15],[0.35,5.89,.15],[0.5,6.14,.15],[0.12,5.95,.15],[0.99,6.81],[1.22,7.04],[1.62,6.81],[2.03,6.69],[1.8,7.1],[2.95,7.04,.15],[3.3,7.15,.2],[3.41,7.15,.2],[-3.68,7.73,.1],[-2.76,7.96,.1],[-3.05,9.69,.2],[-2.76,9.58,.2],[-2.18,9.69,.15],[-1.66,9.46,.1],[-1.43,9.05],[-0.74,9.11],[0.59,9.0],[2.2,9.69,.15],[2.95,9.8,.2],[3.3,9.63,.2],[3.87,9.4,.25]];
const ocSmall = [[0.96,13.11,.5],[0.96,12.59,.5],[-1.17,12.30,.3],[3.07,13.0,.45],[0.28,11.85,.35],[-0.27,11.46,.25],[-0.70,11.42,.25],[2.36,11.56,.4],[-1.90,11.22,.3],[-1.63,10.88,.25],[-1.20,11.13,.25],[-3.76,11.14,.4],[-3.55,10.99,.4],[-3.55,10.73,.35],[-4.51,10.18,.45],[-4.35,10.13,.35],[-4.6,9.67,.4],[-4.39,9.48,.35],[-2.93,10.30,.3],[0.35,11.13,.25],[0.98,11.19,.15],[1.15,11.16,.15],[0.49,10.61,.2],[1.33,10.67,.25],[1.61,10.49,.3],[1.77,10.82,.35],[2.2,10.40,.2],[3.52,10.45,.3],[4.30,10.30,.35],[3.77,10.06,.3],[4.22,9.37,.35],[3.96,9.17,.3],[3.91,8.0,.4],[4.52,7.94,.4],[4.52,6.54,.35],[3.93,6.75,.3],[2.39,5.58,.2],[-4.78,6.64,.4],[-4.51,6.53,.35],[-3.98,6.18,.3],[-3.73,6.0,.3],[-2.25,3.93,.35],[-0.82,9.25],[-0.69,9.0],[-0.97,9.31],[-1.03,9.05],[-0.05,9.34],[0.32,9.11],[0.50,9.17],[-1.43,8.73],[-0.45,8.88],[-1.89,8.05],[-1.51,8.42],[-1.20,7.41],[-0.74,7.79],[0.24,7.73],[0.41,7.36],[1.16,8.42],[1.80,9.17,.1],[2.03,9.11,.15],[1.85,9.0,.15],[2.14,9.0,.2],[2.31,8.94,.2],[2.37,8.71,.2],[2.23,8.71,.2],[1.45,8.88,.1],[2.03,8.36,.15],[2.20,8.36,.15],[1.80,8.16],[2.72,7.94,.15],[2.92,7.94,.15],[3.30,7.79,.15],[2.43,7.36,.15],[2.84,7.41,.2],[3.0,7.04,.2],[2.95,6.23,.15],[2.43,5.57,.2],[0.76,7.06],[-1.32,6.83,.1],[-1.43,6.58,.15],[-2.01,6.81,.1],[-2.93,6.46,.2],[-3.16,6.41,.2],[-2.76,6.41,.2],[-2.41,6.46,.2],[-2.13,5.72,.2],[-1.74,6.06,.15],[0.07,6.06,.2],[0.32,6.18,.2],[0.47,5.83,.2],[0.41,5.43,.25],[0.93,5.37,.3],[0.99,4.79,.35],[1.45,4.85,.3],[1.33,5.77,.2],[2.14,7.21,.1],[-3.99,6.17,.2],[-2.58,7.96,.15],[-2.47,7.79,.15],[-3.30,6.92,.1],[-3.16,7.25,.15],[-2.95,7.0,.15],[-3.2,6.7,.2],[-1.5,7.7,.1]];
const ocLegend = [[3.39,13.94],[3.39,13.18],[3.39,12.42]];

// ---- caption text ----
const captionLines = [
 '{b|FIGURE 1 |} Distributions of {b|(A)} GMCs, {b|(B)} HMSFR masers, {b|(C)} HII regions, {b|(D)} O-type stars, and {b|(E)} young OCs in the solar neighborhood. All of the plotted objects',
 'have distance uncertainties better than 15% and <0.5 kpc as determined by the trigonometric or photometric method. The symbol sizes of GMCs are proportional to',
 'their masses. For HMSFR masers, HII regions, and O-type stars, an equal size of the dots is adopted. The symbol sizes of young OCs are proportional to the number of',
 'cluster member stars. The position uncertainty for each data point is shown by an underlying gray line segment. The thick gray curved lines indicate the best fitted',
 'spiral arm model given by {g|Reid et al. (2019)}, the dotted lines denote the arm widths enclosing 90% of the HMSFR masers. The black dashed lines indicate the four spurs',
 'or spur-like structures proposed in literature (see {b|Section 3.3}). In each plot, the segments of spiral arms are labelled; the Sun is at (0.0, 8.15) kpc ({g|Reid et al., 2019}), while',
 'the Galactic center is at (0.0, 0.0) kpc; and the Galactic long bar is indicated by a shaded ellipse ({g|Wegg et al., 2015}).'
];
const captionStretch = [1.017, 1.055, 1.03, 1.034, 1.023, 1.015, 1.074];

// ======== layout & build ========
const FONT = '"Liberation Sans", Arial, Helvetica, sans-serif';
const XMIN = -8.53, XMAX = 8, YMIN = -0.2, YMAX = 15;
const GW = 477.8, GH = 439.3;
const panels = [
 {left:184.3, top:41.7, title:'GMCs', letter:'A', tx:399.6, ty:28, lx:147.5, ly:36},
 {left:746.4, top:41.7, title:'HMSFR masers', letter:'B', tx:961.4, ty:28, lx:709.6, ly:36},
 {left:184.3, top:552.7, title:'HII regions', letter:'C', tx:399.6, ty:537, lx:147.5, ly:543},
 {left:746.4, top:552.7, title:'O−type stars', letter:'D', tx:961.4, ty:537, lx:709.6, ly:544},
 {left:465.4, top:1064.7, title:'Young OCs (ages < 20 Myr)', letter:'E', tx:681.4, ty:1048, lx:427.9, ly:1055.7}
];
const AXC = '#222';
const grids = [], xAxes = [], yAxes = [], series = [], graphics = [];

function mkAxis(dim, gi, pos, major) {
  const ticks = dim === 'x' ? (major ? xMajor : xMinor) : (major ? yMajor : yMinor);
  const mainAxis = major && (pos === 'bottom' || pos === 'left');
  const len = dim === 'x' ? (major ? 7 : 4) : (major ? 10 : 5);
  const a = {
    type:'value', gridIndex:gi, position:pos,
    min: dim === 'x' ? XMIN : YMIN, max: dim === 'x' ? XMAX : YMAX,
    splitLine:{show:false},
    axisLine:{show:true, onZero:false, lineStyle:{color:AXC, width:1.6}},
    axisTick:{show:true, inside:true, length:len, customValues:ticks, lineStyle:{color:AXC, width:1.4}},
    axisLabel:{show:mainAxis, customValues:ticks, margin: dim === 'x' ? 7 : 5, fontFamily:FONT, fontSize:17, color:'#111',
      formatter:v => String(v).replace('-', '−')}
  };
  if (mainAxis) {
    a.name = dim === 'x' ? 'X (kpc)' : 'Y (kpc)';
    a.nameLocation = 'middle';
    a.nameGap = dim === 'x' ? 25 : 28;
    a.nameTextStyle = {fontFamily:FONT, fontSize:16.5, color:'#111'};
  }
  return a;
}

function segSeries(ax, data, color, z) {
  return Object.assign({}, ax, {
    type:'custom', silent:true, z, clip:true,
    data: data.filter(d => d[2] > 0),
    encode:{x:0, y:1},
    renderItem(params, api) {
      const x = api.value(0), y = api.value(1), e = api.value(2);
      const dx = x - sunPos[0][0], dy = y - sunPos[0][1], r = Math.hypot(dx, dy) || 1;
      const p1 = api.coord([x - e * dx / r, y - e * dy / r]);
      const p2 = api.coord([x + e * dx / r, y + e * dy / r]);
      return {type:'line', shape:{x1:p1[0], y1:p1[1], x2:p2[0], y2:p2[1]}, style:{stroke:color, lineWidth:1}};
    }
  });
}
function dots(ax, data, size, style, z) {
  return Object.assign({}, ax, {type:'scatter', silent:true, z, symbol:'circle', symbolSize:size, itemStyle:style,
    data:data.map(d => [d[0], d[1]])});
}
function textPts(ax, items, z) {
  return Object.assign({}, ax, {type:'scatter', silent:true, z, symbolSize:0, data:items, labelLayout:{hideOverlap:false}});
}

panels.forEach((p, g) => {
  grids.push({left:p.left, top:p.top, width:GW, height:GH, containLabel:false});
  xAxes.push(mkAxis('x', g, 'bottom', true), mkAxis('x', g, 'top', true), mkAxis('x', g, 'bottom', false), mkAxis('x', g, 'top', false));
  yAxes.push(mkAxis('y', g, 'left', true), mkAxis('y', g, 'right', true), mkAxis('y', g, 'left', false), mkAxis('y', g, 'right', false));
  const ax = {xAxisIndex:4 * g, yAxisIndex:4 * g};

  // shaded long bar
  series.push(Object.assign({}, ax, {
    type:'custom', silent:true, z:1, clip:true, data:[[0, 0]],
    renderItem(params, api) {
      return {type:'polygon', shape:{points:barOutline.map(q => api.coord(q)), smooth:0.45},
        style:{fill:'#d2d2d2', stroke:'#f6cfcf', lineWidth:1.2}};
    }
  }));
  // cross-hair (panel A only)
  if (g === 0) {
    series.push(Object.assign({}, ax, {type:'line', silent:true, z:2, symbol:'none', data:[[0, YMIN], [0, YMAX]], lineStyle:{color:'#d4d4d4', width:1, type:[9, 6]}}));
    series.push(Object.assign({}, ax, {type:'line', silent:true, z:2, symbol:'none', data:[[XMIN, sunPos[0][1]], [XMAX, sunPos[0][1]]], lineStyle:{color:'#d4d4d4', width:1, type:[9, 6]}}));
  }
  // arm widths
  [wOuterUp, wOuterLo, wPerseusUp, wPerseusLo, wLocalUp, wLocalLo, wSagUp, wSagLo, wScuUp, wScuLo, wNormaUp, wNormaLo].forEach(d => {
    series.push(Object.assign({}, ax, {type:'line', silent:true, z:2, symbol:'none', smooth:0.35, data:d, lineStyle:{color:'#d9d9d9', width:1, type:[8, 4, 1.5, 4]}}));
  });
  // arms
  [armOuter, armPerseus, armLocal, armSagCar, armScuCen, armNorma].forEach(d => {
    series.push(Object.assign({}, ax, {type:'line', silent:true, z:3, symbol:'none', smooth:0.35, data:d, lineStyle:{color:'#d3d3d3', width:5.2, cap:'butt'}}));
  });
  // spurs
  [spurA, spurB, spurC, spurD].forEach(d => {
    series.push(Object.assign({}, ax, {type:'line', silent:true, z:4, symbol:'none', smooth:0.3, data:d, lineStyle:{color:'#000', width:2.2, type:[6, 6.5]}}));
  });
  // longitude tick marks
  series.push(Object.assign({}, ax, {
    type:'custom', silent:true, z:5, clip:true, data:lonTicks, encode:{x:0, y:1},
    renderItem(params, api) {
      const a = api.coord([api.value(0), api.value(1)]), b = api.coord([api.value(2), api.value(3)]);
      return {type:'line', shape:{x1:a[0], y1:a[1], x2:b[0], y2:b[1]}, style:{stroke:'#777', lineWidth:1}};
    }
  }));
  // text marks
  const smallTxt = lonLabels.map(l => ({value:[l[0], l[1]], label:{show:true, position:'inside', formatter:l[2], fontFamily:FONT, fontSize:11.5, color:'#8c8c8c'}}));
  const armTxt = armLabels.map(l => ({value:[l[0], l[1]], label:{show:true, position:'inside', formatter:(g === 0 ? l[2].replace('−', '-') : l[2]), rotate:l[3], fontFamily:FONT, fontSize:14.3, color:'#7c7c7c'}}));
  const gcTxt = [{value:[-0.72, 0.45], label:{show:true, position:'inside', formatter:'GC', fontFamily:FONT, fontSize:14.5, color:'#bdbdbd'}}];
  series.push(textPts(ax, smallTxt.concat(armTxt, gcTxt), 6));
  if (g === 0) {
    series.push(textPts(ax, quadLabels.map(l => ({value:[l[0], l[1]], label:{show:true, position:'inside', formatter:l[2], fontFamily:FONT, fontSize:14.5, color:'#d9d9d9'}})), 6));
  }

  // data marks
  const hollow = {color:'rgba(0,0,0,0)', borderColor:'#ffa500', borderWidth:1.3};
  if (g === 0) {
    series.push(segSeries(ax, gmcLarge.concat(gmcMid, gmcSmall), '#cfcfcf', 7));
    series.push(dots(ax, gmcLarge, 10.5, hollow, 8));
    series.push(dots(ax, gmcMid, 5.6, hollow, 8));
    series.push(dots(ax, gmcSmall, 3.2, {color:'#ffb733', borderColor:'#ffa500', borderWidth:0.6}, 8));
    series.push(dots(ax, gmcLegend.slice(0, 1), 10.5, hollow, 8));
    series.push(dots(ax, gmcLegend.slice(1, 2), 5.6, hollow, 8));
    series.push(dots(ax, gmcLegend.slice(2, 3), 3.2, {color:'#ffb733', borderColor:'#ffa500', borderWidth:0.6}, 8));
    const rich = {sub:{fontSize:7.5, fontFamily:FONT, color:'#222', verticalAlign:'bottom', lineHeight:20}, sup:{fontSize:8.5, fontFamily:FONT, color:'#222', verticalAlign:'top', lineHeight:20}};
    const legendText = ['M{sub|GMC} ≥ 2×10{sup|5} M{sub|⊙}', '5×10{sup|4} ≤ M{sub|GMC} < 2×10{sup|5} M{sub|⊙}', '10{sup|4} < M{sub|GMC} < 5×10{sup|4} M{sub|⊙}'];
    series.push(textPts(ax, gmcLegend.map((q, i) => ({value:[2.41, q[1]], label:{show:true, position:'right', distance:0, formatter:legendText[i], fontFamily:FONT, fontSize:13.5, color:'#222', rich}})), 9));
  }
  if (g === 1) {
    series.push(segSeries(ax, maserData, '#4f7396', 7));
    series.push(dots(ax, maserData, 8.8, {color:'#0000ff'}, 8));
  }
  if (g === 2) {
    series.push(segSeries(ax, hiiData, '#4f7396', 7));
    series.push(dots(ax, hiiData, 9.2, {color:'#ff0000'}, 8));
  }
  if (g === 3) {
    series.push(segSeries(ax, oStarData, '#4f7396', 7));
    series.push(dots(ax, oStarData, 6, {color:'#46691f'}, 8));
  }
  if (g === 4) {
    const pink = {color:'#ff69b4'};
    series.push(segSeries(ax, ocLarge.concat(ocMid, ocSmall), '#4f7396', 7));
    series.push(dots(ax, ocSmall, 3.2, pink, 8));
    series.push(dots(ax, ocMid, 6, pink, 8));
    series.push(dots(ax, ocLarge, 11.5, pink, 8));
    series.push(dots(ax, ocLegend.slice(0, 1), 10, pink, 8));
    series.push(dots(ax, ocLegend.slice(1, 2), 5.5, pink, 8));
    series.push(dots(ax, ocLegend.slice(2, 3), 3.2, pink, 8));
    const legendText = ['Members ≥ 100', '50 ≤ Members < 100', 'Members < 50'];
    series.push(textPts(ax, ocLegend.map((q, i) => ({value:[3.66, q[1]], label:{show:true, position:'right', distance:0, formatter:legendText[i], fontFamily:FONT, fontSize:13.5, color:'#222'}})), 9));
  }
  // Sun and Galactic centre
  series.push(Object.assign({}, ax, {type:'scatter', silent:true, z:10, symbol:'circle', symbolSize:11, data:sunPos, itemStyle:{color:'rgba(0,0,0,0)', borderColor:'#000', borderWidth:1.5}}));
  series.push(Object.assign({}, ax, {type:'scatter', silent:true, z:10, symbol:'circle', symbolSize:3.6, data:sunPos, itemStyle:{color:'#000'}}));
  series.push(Object.assign({}, ax, {type:'scatter', silent:true, z:10, symbol:'path://M0,-10 Q1.5,-1.5 10,0 Q1.5,1.5 0,10 Q-1.5,1.5 -10,0 Q-1.5,-1.5 0,-10 Z', symbolSize:11.5, data:gcPos, itemStyle:{color:'#fff', borderColor:'#222', borderWidth:1}}));

  // titles and letters
  graphics.push({type:'text', x:p.tx, y:p.ty, z:20, style:{text:p.title, align:'center', verticalAlign:'middle', font:'16.2px ' + FONT, fill:'#111'}});
  graphics.push({type:'text', x:p.lx, y:p.ly, z:20, style:{text:p.letter, align:'center', verticalAlign:'middle', font:'bold 25px ' + FONT, fill:'#000'}});
});

// outer frame
graphics.push({type:'polyline', z:1, shape:{points:[[8, 1756], [8, 6.5], [1353, 6.5], [1353, 1756]]}, style:{stroke:'#666', lineWidth:1, fill:null}});
// caption
const captionRich = {b:{fontWeight:'bold', fontSize:17, fontFamily:FONT, fill:'#111', color:'#111'}, g:{color:'#a0a0a0', fill:'#a0a0a0', fontSize:17, fontFamily:FONT}};
captionLines.forEach((t, i) => {
  graphics.push({type:'text', x:24, y:1590 + i * 25.2, scaleX:captionStretch[i], z:20, style:{text:t, rich:captionRich, verticalAlign:'middle', font:'17px ' + FONT, fill:'#222'}});
});

const chart = echarts.init(document.getElementById('main'), null, {renderer:'canvas', width:1359, height:1756});
chart.setOption({animation:false, backgroundColor:'#fff', grid:grids, xAxis:xAxes, yAxis:yAxes, series, graphic:{elements:graphics}});
</script>
</body>
</html>
